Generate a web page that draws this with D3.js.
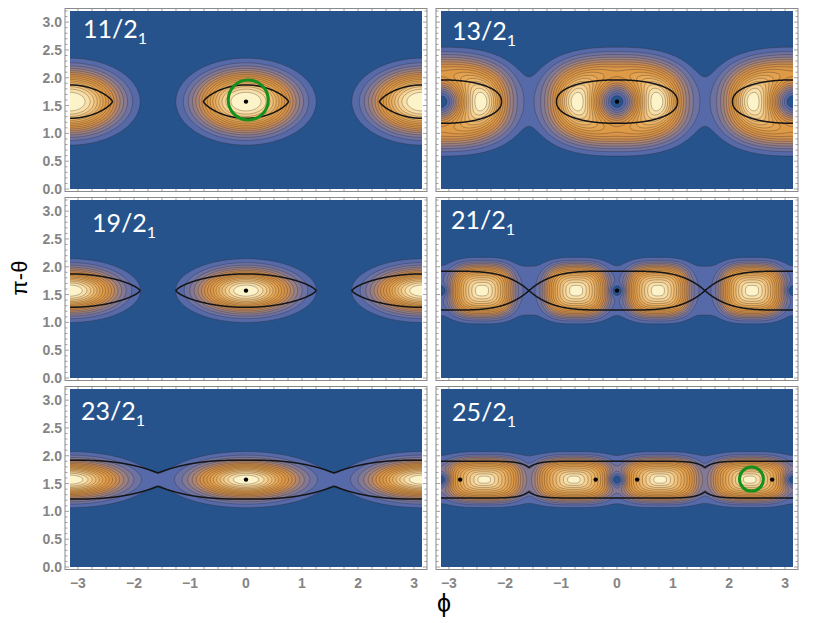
<!DOCTYPE html>
<html>
<head>
<meta charset="utf-8">
<script src="https://cdn.jsdelivr.net/npm/d3@7"></script>
<style>
  body { margin: 0; background: #fff; }
  svg { display: block; }
</style>
</head>
<body>
<div id="chart"></div>
<script>
var W = 830, H = 623;
var HALF_PI = Math.PI / 2;
var PI = Math.PI;

// panel titles, J/2 with subscript 1
var panelLabels = ["11/2", "13/2", "19/2", "21/2", "23/2", "25/2"];

// density lobes:
// [phi centre, amplitude, phi width, theta width, fall-off power, squareness, edge cut]
var lobes11 = [[0, 1, 0.625, 0.39, 2.5, 2], [PI, 1, 0.625, 0.39, 2.5, 2]];
var lobes13 = [[0, 1, 0.95, 0.6, 3.5, 2.5], [PI, 1, 0.95, 0.6, 3.5, 2.5],
               [-2.40, 0.3, 0.22, 0.25, 2, 2], [-0.74, 0.3, 0.22, 0.25, 2, 2],
               [0.74, 0.3, 0.22, 0.25, 2, 2], [2.40, 0.3, 0.22, 0.25, 2, 2]];
var lobes19 = [[0, 1, 0.57, 0.26, 2.2, 2], [PI, 1, 0.57, 0.26, 2.2, 2]];
var lobes21 = [[-2.41, 1, 0.4, 0.34, 1.6, 3, 1.35], [-0.73, 1, 0.4, 0.34, 1.6, 3, 1.35],
               [0.73, 1, 0.4, 0.34, 1.6, 3, 1.35], [2.41, 1, 0.4, 0.34, 1.6, 3, 1.35]];
var lobes23 = [[0, 1, 0.62, 0.22, 2.1, 2], [PI, 1, 0.62, 0.22, 2.1, 2]];
var lobes25 = [[-2.37, 1, 0.45, 0.26, 1.4, 3, 1.45], [-0.77, 1, 0.45, 0.26, 1.4, 3, 1.45],
               [0.77, 1, 0.45, 0.26, 1.4, 3, 1.45], [2.37, 1, 0.45, 0.26, 1.4, 3, 1.45]];

// flat band along pi/2: [amplitude, theta width]
var band11 = [0, 0.3];
var band13 = [0, 0.3];
var band19 = [0, 0.3];
var band21 = [0.12, 0.4];
var band23 = [0.01, 0.25];
var band25 = [0.13, 0.36];

// zeros of the density (blue holes): [phi, radius]
var holes11 = [];
var holes13 = [[0, 0.3], [PI, 0.3]];
var holes19 = [];
var holes21 = [[0, 0.08], [PI, 0.08]];
var holes23 = [];
var holes25 = [[0, 0.096], [PI, 0.096]];

// black separatrix: [half width, half height, m, n, offset]
var sep11 = [0.76, 0.30, 2, 1.3, 0];
var sep13 = [1.08, 0.39, 2.2, 2.2, 0];
var sep19 = [1.25, 0.30, 2, 1.4, 0];
var sep21 = [HALF_PI, 0.35, 4, 1, 0];
var sep23 = [HALF_PI, 0.23, 2.7, 1, 0.12];
var sep25 = [HALF_PI, 0.11, 10, 1, 0.22];

// fixed points (black dots)
var dots11 = [[0, 1.5708]];
var dots13 = [[0, 1.5708]];
var dots19 = [[0, 1.5708]];
var dots21 = [[0, 1.5708]];
var dots23 = [[0, 1.5708]];
var dots25 = [[-2.80, 1.5708], [-0.38, 1.5708], [0.36, 1.5708], [2.77, 1.5708]];

// green markers [phi, pi-theta]
var rings11 = [[0.04, 1.60]];
var rings25 = [[2.40, 1.58]];

var xTicks = [-3, -2, -1, 0, 1, 2, 3];
var yTicks = [0, 0.5, 1, 1.5, 2, 2.5, 3];

var panels = [
  {label: panelLabels[0], lobes: lobes11, band: band11, holes: holes11, sep: sep11, dots: dots11, rings: rings11},
  {label: panelLabels[1], lobes: lobes13, band: band13, holes: holes13, sep: sep13, dots: dots13, rings: []},
  {label: panelLabels[2], lobes: lobes19, band: band19, holes: holes19, sep: sep19, dots: dots19, rings: []},
  {label: panelLabels[3], lobes: lobes21, band: band21, holes: holes21, sep: sep21, dots: dots21, rings: []},
  {label: panelLabels[4], lobes: lobes23, band: band23, holes: holes23, sep: sep23, dots: dots23, rings: []},
  {label: panelLabels[5], lobes: lobes25, band: band25, holes: holes25, sep: sep25, dots: dots25, rings: rings25}
];

// layout
var colX = [70, 441], plotW = 352;
var rowY = [11, 200, 389], plotH = 178;
var labelPos = [[13, 27], [11, 29], [22, 32], [10, 29], [11, 31], [11, 32]];
var ringR = [20, 0, 0, 0, 0, 12];

var thresholds = d3.range(1, 17).map(function(k) { return k / 17; });
var bandColor = d3.scaleLinear()
  .domain([0, 1/16, 2/16, 3/16, 4/16, 5/16, 6/16, 7/16, 9/16, 11/16, 13/16, 15/16, 1])
  .range(["#26538b", "#5669a9", "#6c72a2", "#837994", "#998082", "#b08670", "#c58b58",
          "#d4914a", "#df9a46", "#e7aa58", "#f0c27c", "#f9e0a8", "#fdf3c9"]);

function wrap(d) {
  d = (d + PI) % (2 * PI);
  if (d < 0) d += 2 * PI;
  return d - PI;
}

function density(p, phi, th) {
  var dy = th - HALF_PI;
  var f = p.band[0] * Math.exp(-0.5 * Math.pow(dy / p.band[1], 2));
  p.lobes.forEach(function(l) {
    var q = l[5];
    var R = Math.pow(Math.pow(Math.abs(wrap(phi - l[0]) / l[2]), q) + Math.pow(Math.abs(dy / l[3]), q), 1 / q);
    var e = Math.pow(R, l[4]);
    if (l[6]) e += Math.pow(R / l[6], 6);
    f += l[1] * Math.exp(-0.5 * e);
  });
  p.holes.forEach(function(h) {
    var d = wrap(phi - h[0]);
    f *= 1 - Math.exp(-0.5 * (d * d + dy * dy) / (h[1] * h[1]));
  });
  return f;
}

var svg = d3.select("#chart").append("svg")
  .attr("width", W)
  .attr("height", H)
  .style("font-family", "'Liberation Sans', Arial, sans-serif");

var defs = svg.append("defs");

panels.forEach(function(p, i) {
  var col = i % 2, row = Math.floor(i / 2);
  var x0 = colX[col], y0 = rowY[row];
  var xs = d3.scaleLinear().domain([-PI, PI]).range([x0, x0 + plotW]);
  var ys = d3.scaleLinear().domain([0, 3.2]).range([y0 + plotH, y0]);

  var g = svg.append("g");

  defs.append("clipPath").attr("id", "clip" + i)
    .append("rect").attr("x", x0).attr("y", y0).attr("width", plotW).attr("height", plotH);

  // frame with inward ticks
  var fx0 = x0 - 5, fx1 = x0 + plotW + 5, fy0 = y0 - 2.5, fy1 = y0 + plotH + 2.5;
  g.append("rect")
    .attr("x", fx0).attr("y", fy0).attr("width", fx1 - fx0).attr("height", fy1 - fy0)
    .attr("fill", "none").attr("stroke", "#8a8a8a").attr("stroke-width", 1);

  var ticks = g.append("g").attr("stroke", "#8a8a8a").attr("stroke-width", 0.8);
  var xMinor = d3.range(-3.0, 3.01, 0.25).filter(function(v) { return Math.abs(v - Math.round(v)) > 1e-6; });
  var yMinor = d3.range(0, 3.201, 0.1).filter(function(v) { return Math.abs(v * 2 - Math.round(v * 2)) > 1e-6; });
  [[xTicks, 4], [xMinor, 2.5]].forEach(function(t) {
    t[0].forEach(function(v) {
      var X = xs(v);
      ticks.append("line").attr("x1", X).attr("x2", X).attr("y1", fy1).attr("y2", fy1 - t[1]);
      ticks.append("line").attr("x1", X).attr("x2", X).attr("y1", fy0).attr("y2", fy0 + t[1]);
    });
  });
  [[yTicks, 4], [yMinor, 2.5]].forEach(function(t) {
    t[0].forEach(function(v) {
      var Y = ys(v);
      ticks.append("line").attr("x1", fx0).attr("x2", fx0 + t[1]).attr("y1", Y).attr("y2", Y);
      ticks.append("line").attr("x1", fx1).attr("x2", fx1 - t[1]).attr("y1", Y).attr("y2", Y);
    });
  });

  if (col === 0) {
    g.append("g").selectAll("text").data(yTicks).join("text")
      .attr("x", fx0 - 3).attr("y", function(d) { return ys(d); })
      .attr("dy", "0.36em").attr("text-anchor", "end")
      .attr("font-size", 14).attr("font-weight", "bold").attr("fill", "#858585")
      .text(d3.format(".1f"));
  }
  if (row === 2) {
    g.append("g").selectAll("text").data(xTicks).join("text")
      .attr("x", function(d) { return xs(d); }).attr("y", fy1 + 18)
      .attr("text-anchor", "middle")
      .attr("font-size", 14).attr("font-weight", "bold").attr("fill", "#858585")
      .text(function(d) { return d < 0 ? "\u2212" + (-d) : d; });
  }

  var plot = g.append("g").attr("clip-path", "url(#clip" + i + ")");
  plot.append("rect").attr("x", x0).attr("y", y0).attr("width", plotW).attr("height", plotH)
    .attr("fill", bandColor(0));

  // density grid, one sample per pixel plus a margin so edges are not outlined
  var ox = x0 - 3, oy = y0 - 3;
  var nx = plotW + 7, ny = plotH + 7;
  var values = new Array(nx * ny);
  for (var j = 0; j < ny; j++) {
    for (var k = 0; k < nx; k++) {
      values[j * nx + k] = density(p, xs.invert(ox + k), ys.invert(oy + j));
    }
  }
  var vmax = d3.max(values);
  for (var q = 0; q < values.length; q++) values[q] /= vmax;

  var contours = d3.contours().size([nx, ny]).thresholds(thresholds)(values);
  var proj = d3.geoTransform({
    point: function(x, y) { this.stream.point(ox + x - 0.5, oy + y - 0.5); }
  });
  var path = d3.geoPath(proj);

  plot.append("g").selectAll("path").data(contours).join("path")
    .attr("d", path)
    .attr("fill", function(d, n) { return bandColor((n + 1) / 16); })
    .attr("stroke", "rgba(45,35,35,0.5)")
    .attr("stroke-width", 0.6);

  // separatrix
  var s = p.sep, a = s[0], b = s[1], m = s[2], nn = s[3], c = s[4];
  var line = d3.line().x(function(d) { return xs(d[0]); }).y(function(d) { return ys(d[1]); });
  var curves = [];
  if (c === 0) {
    [-PI, 0, PI].forEach(function(cx) {
      curves.push(d3.range(0, 721).map(function(st) {
        var t = st * PI / 360, ct = Math.cos(t), sn = Math.sin(t);
        return [cx + a * Math.sign(ct) * Math.pow(Math.abs(ct), 2 / m),
                HALF_PI + b * Math.sign(sn) * Math.pow(Math.abs(sn), 2 / nn)];
      }));
    });
  } else {
    [1, -1].forEach(function(sg) {
      curves.push(d3.range(-PI - 0.02, PI + 0.03, 0.004).map(function(ph) {
        var d = ph - PI * Math.round(ph / PI);
        var h = c + b * Math.pow(Math.max(0, 1 - Math.pow(Math.abs(d) / a, m)), 1 / nn);
        return [ph, HALF_PI + sg * h];
      }));
    });
  }
  plot.append("g").selectAll("path").data(curves).join("path")
    .attr("d", line)
    .attr("fill", "none")
    .attr("stroke", "#151515")
    .attr("stroke-width", 1.5);

  plot.append("g").selectAll("circle").data(p.dots).join("circle")
    .attr("cx", function(d) { return xs(d[0]); })
    .attr("cy", function(d) { return ys(d[1]); })
    .attr("r", 2.2)
    .attr("fill", "#000");

  plot.append("g").selectAll("circle").data(p.rings).join("circle")
    .attr("cx", function(d) { return xs(d[0]); })
    .attr("cy", function(d) { return ys(d[1]); })
    .attr("r", ringR[i])
    .attr("fill", "none")
    .attr("stroke", "#15901c")
    .attr("stroke-width", 3);

  var lab = g.append("text")
    .attr("x", x0 + labelPos[i][0]).attr("y", y0 + labelPos[i][1])
    .attr("fill", "#fff")
    .style("font-family", "Lato, 'Open Sans', sans-serif")
    .attr("font-size", 25);
  lab.append("tspan").text(p.label);
  lab.append("tspan").attr("font-size", 16).attr("dy", 6).text("1");
});

// axis titles
svg.append("text")
  .attr("transform", "translate(27,278) rotate(-90)")
  .attr("text-anchor", "middle")
  .attr("font-size", 22)
  .attr("fill", "#000")
  .text("\u03c0-\u03b8");

svg.append("text")
  .attr("x", 444).attr("y", 612)
  .attr("text-anchor", "middle")
  .attr("font-size", 25)
  .attr("fill", "#000")
  .text("\u03d5");
</script>
</body>
</html>
